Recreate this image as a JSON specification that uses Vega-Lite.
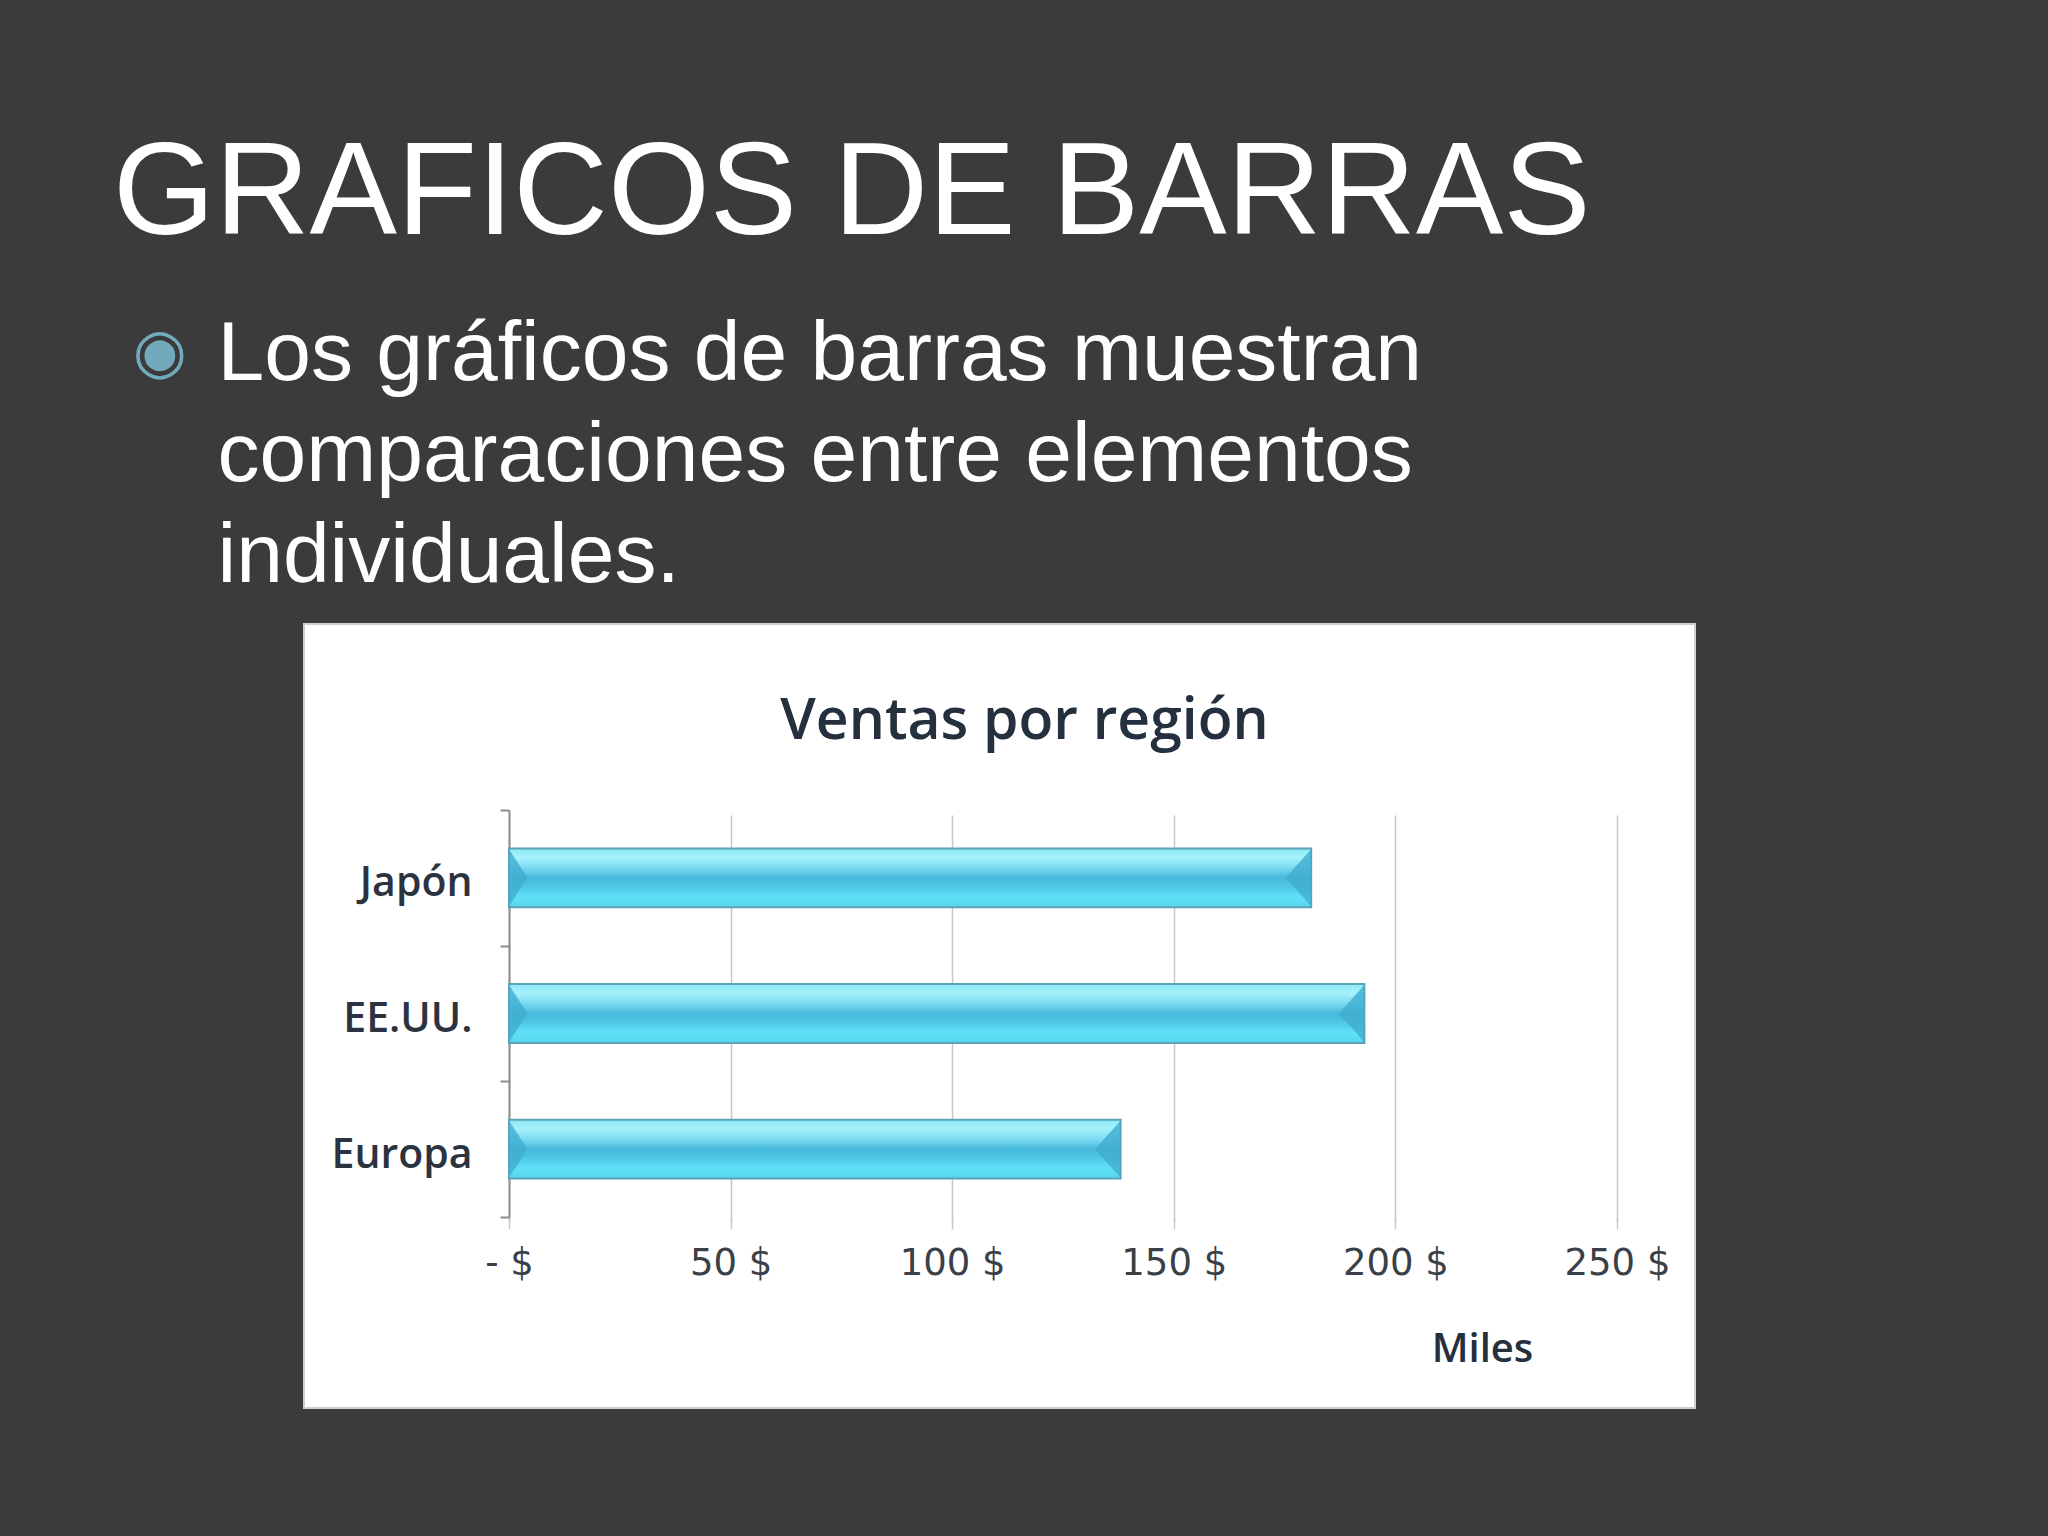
{
  "$schema": "https://vega.github.io/schema/vega-lite/v6.json",
  "width": 1391,
  "height": 784,
  "autosize": {"type": "none"},
  "padding": {"left": 304, "top": 624, "right": 353, "bottom": 128},
  "background": "#3b3a3c",
  "config": {"view": {"fill": "#ffffff", "stroke": "#cfcfcf", "strokeWidth": 2}},
  "title": {
    "text": "GRAFICOS DE BARRAS",
    "subtitle": "\u200b\u00a0◉",
    "anchor": "start",
    "frame": "group",
    "dx": -191,
    "offset": -74,
    "font": "Liberation Sans",
    "fontSize": 131,
    "fontWeight": "normal",
    "color": "#ffffff",
    "subtitleFont": "DejaVu Sans",
    "subtitleFontSize": 62,
    "subtitleFontWeight": "normal",
    "subtitleColor": "#72a9bb",
    "subtitlePadding": 61
  },
  "data": {
    "values": [
      {"region": "Japón", "ventas": 181},
      {"region": "EE.UU.", "ventas": 193},
      {"region": "Europa", "ventas": 138}
    ]
  },
  "resolve": {"axis": {"x": "independent"}},
  "encoding": {
    "y": {
      "field": "region",
      "type": "nominal",
      "sort": null,
      "scale": {"range": [186, 593], "paddingInner": 0, "paddingOuter": 0},
      "axis": {
        "title": ["Los gráficos de barras muestran", "comparaciones entre elementos", "individuales."],
        "titleFont": "Liberation Sans",
        "titleFontSize": 84,
        "titleFontWeight": "normal",
        "titleColor": "#ffffff",
        "titleLineHeight": 101,
        "titleAngle": 0,
        "titleX": -292,
        "titleY": -245,
        "titleAlign": "left",
        "titleBaseline": "alphabetic",
        "offset": -205,
        "domainColor": "#8c8c8c",
        "domainWidth": 2,
        "tickColor": "#8c8c8c",
        "tickWidth": 2,
        "tickSize": 9,
        "tickBand": "extent",
        "labelFont": "Open Sans",
        "labelFontSize": 41,
        "labelFontWeight": 600,
        "labelColor": "#2b3340",
        "labelPadding": 28,
        "labelOffset": 6,
        "grid": false
      }
    }
  },
  "layer": [
    {
      "mark": {
        "type": "bar",
        "height": {"band": 0.434},
        "fill": {
          "gradient": "linear",
          "x1": 0, "y1": 0, "x2": 0, "y2": 1,
          "stops": [
            {"offset": 0, "color": "#8ae9f8"},
            {"offset": 0.15, "color": "#a6f2fc"},
            {"offset": 0.32, "color": "#7ddcf2"},
            {"offset": 0.5, "color": "#47badd"},
            {"offset": 0.62, "color": "#4cc3e3"},
            {"offset": 0.82, "color": "#5fe2f7"},
            {"offset": 1, "color": "#56d6ef"}
          ]
        },
        "stroke": "#5aa3b6",
        "strokeWidth": 2
      },
      "encoding": {
        "x": {
          "field": "ventas",
          "type": "quantitative",
          "scale": {"domain": [0, 250], "range": [205, 1313], "nice": false},
          "axis": {
            "orient": "bottom",
            "offset": -191,
            "values": [0, 50, 100, 150, 200, 250],
            "labelExpr": "datum.value == 0 ? '- $' : datum.value + ' $'",
            "labelFlush": false,
            "domain": false,
            "grid": true,
            "gridColor": "#c8c8c8",
            "gridWidth": 1.5,
            "tickColor": "#c8c8c8",
            "tickWidth": 1.5,
            "tickSize": 12,
            "labelFont": "DejaVu Sans",
            "labelFontSize": 37,
            "labelColor": "#3a4048",
            "labelPadding": 16,
            "title": "Miles",
            "titleFont": "Open Sans",
            "titleFontSize": 40,
            "titleFontWeight": 600,
            "titleColor": "#25303e",
            "titleX": 1178,
            "titleY": 132,
            "titleAlign": "center",
            "titleBaseline": "middle"
          }
        }
      }
    },
    {
      "mark": {"type": "point", "shape": "M 0 -1 L 0.65 0 L 0 1 Z", "filled": true, "fill": "#40add0", "opacity": 0.8, "size": 3249, "strokeWidth": 0},
      "encoding": {
        "x": {"datum": 0, "type": "quantitative", "axis": null}
      }
    },
    {
      "mark": {"type": "point", "shape": "M 0 -1 L -0.9 0 L 0 1 Z", "filled": true, "fill": "#40add0", "opacity": 0.8, "size": 3249, "strokeWidth": 0},
      "encoding": {
        "x": {
          "field": "ventas",
          "type": "quantitative",
          "axis": {
            "orient": "top",
            "title": "Ventas por región",
            "labels": false,
            "ticks": false,
            "domain": false,
            "grid": false,
            "titleFont": "Open Sans",
            "titleFontSize": 57,
            "titleFontWeight": 600,
            "titleColor": "#25303e",
            "titleX": 720,
            "titleY": 114,
            "titleAlign": "center",
            "titleBaseline": "alphabetic"
          }
        }
      }
    }
  ]
}
